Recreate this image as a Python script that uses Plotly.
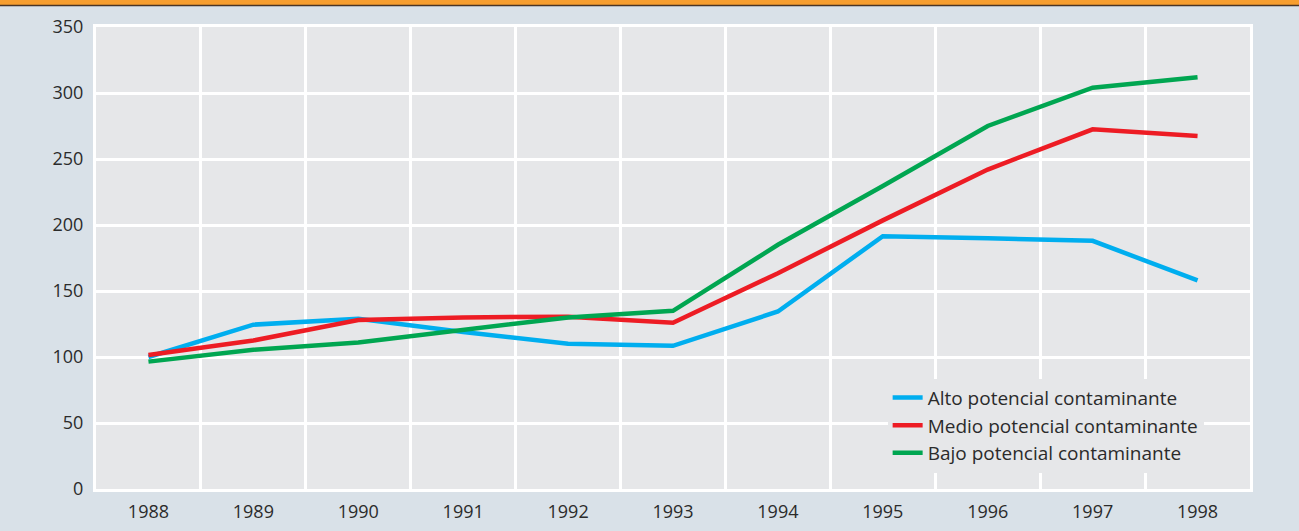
import plotly.graph_objects as go

years = [1988, 1989, 1990, 1991, 1992, 1993, 1994, 1995, 1996, 1997, 1998]
alto = [100, 124.5, 129, 119, 110, 108.5, 134.5, 191.5, 190, 188, 158]
medio = [101.5, 112.5, 128, 130, 130.5, 126, 163.5, 203.5, 242, 272.5, 267.5]
bajo = [96.5, 105.5, 111, 120.5, 130, 135, 185, 229.5, 275, 304, 312]

names = ["Alto potencial contaminante", "Medio potencial contaminante", "Bajo potencial contaminante"]
colors = ["#00AEEF", "#ED1C24", "#00A651"]
series = [alto, medio, bajo]

FONT = "Open Sans"
TXT = "#2b2b2b"
BG = "#D9E1E8"
PLOT_BG = "#E6E7E9"

fig = go.Figure()
for nm, col, vals in zip(names, colors, series):
    fig.add_trace(go.Scatter(x=years, y=vals, mode="lines", name=nm,
                             line=dict(color=col, width=4.5)))

fig.update_layout(
    width=1299, height=531,
    margin=dict(l=96, r=49, t=27, b=42, autoexpand=False),
    paper_bgcolor=BG, plot_bgcolor=PLOT_BG,
    font=dict(family=FONT, size=18, color=TXT),
    showlegend=True,
    legend=dict(x=0.686, y=0.239, xanchor="left", yanchor="top",
                bgcolor=PLOT_BG, borderwidth=0,
                font=dict(family=FONT, size=19, color=TXT)),
    xaxis=dict(range=[1987.5, 1998.5], tickvals=years, ticktext=[str(y) for y in years],
               automargin=False,
               showgrid=False, zeroline=False,
               ticks="outside", ticklen=4, tickcolor="rgba(0,0,0,0)",
               showline=True, linecolor="white", linewidth=3, mirror=True,
               minor=dict(tick0=1988.5, dtick=1, showgrid=True, gridcolor="white", gridwidth=3,
                          ticks="")),
    yaxis=dict(range=[0, 350], dtick=50, tick0=0, automargin=False,
               showgrid=True, gridcolor="white", gridwidth=3,
               zeroline=False,
               ticks="outside", ticklen=6, tickcolor="rgba(0,0,0,0)",
               showline=True, linecolor="white", linewidth=3, mirror=True),
    shapes=[
        dict(type="rect", xref="paper", yref="paper", x0=-0.2, x1=1.2,
             y0=(489 - 5) / 462, y1=1.2, fillcolor="#F79E2F", line=dict(width=0), layer="above"),
        dict(type="line", xref="paper", yref="paper", x0=-0.2, x1=1.2,
             y0=(489 - 5.5) / 462, y1=(489 - 5.5) / 462, line=dict(color="#4A3526", width=1.5), layer="above"),
    ],
)

fig.write_html("out.html", config={"displayModeBar": False},
               post_script="document.body.style.margin='0';")
